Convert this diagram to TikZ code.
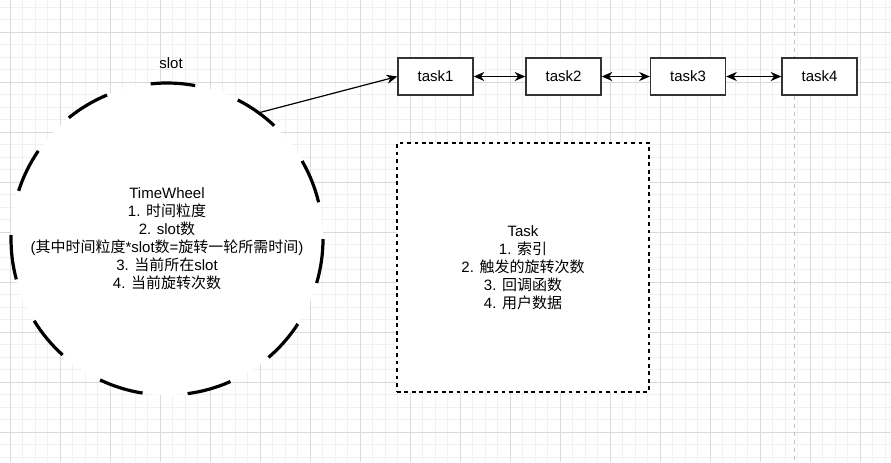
\documentclass[tikz,border=0pt]{standalone}
\usepackage{fontspec}
\setmainfont{Liberation Sans}
\newfontfamily\cjk{Noto Sans CJK SC}
\usetikzlibrary{arrows.meta,calc}
\newcommand\zh[1]{{\cjk #1}}
\definecolor{gridminor}{HTML}{F1F1F1}
\definecolor{gridmajor}{HTML}{DADADA}
\definecolor{boxline}{HTML}{333333}
\begin{document}
\begin{tikzpicture}[x=0.75pt,y=-0.75pt,
  txt/.style={font=\fontsize{11.25pt}{13.5pt}\selectfont, align=center, inner sep=0pt},
  taskbox/.style={draw=boxline, line width=1pt, fill=white, minimum width=56.25pt, minimum height=27.75pt, inner sep=0pt, txt},
  arr/.style={line width=0.9pt, {Stealth[length=8pt,width=6.8pt,inset=2.5pt]}-{Stealth[length=8pt,width=6.8pt,inset=2.5pt]}},
  arrone/.style={line width=0.9pt, -{Stealth[length=8pt,width=6.8pt,inset=2.5pt]}}]
\fill[white] (0,0) rectangle (891,462);
\useasboundingbox (0,0) rectangle (891,462);
% grid
\foreach \x in {10,22.5,...,886} \draw[gridminor, line width=0.75pt] (\x,0) -- (\x,462);
\foreach \y in {7,19.5,...,460} \draw[gridminor, line width=0.75pt] (0,\y) -- (891,\y);
\foreach \x in {10,60,...,860} \draw[gridmajor, line width=0.75pt] (\x,0) -- (\x,462);
\foreach \y in {32,82,...,432} \draw[gridmajor, line width=0.75pt] (0,\y) -- (891,\y);
% gray dashed vertical line
\draw[black!25, line width=0.75pt, dash pattern=on 3pt off 3pt] (794,0) -- (794,462);
% wheel
\node[circle, fill=white, minimum size=234pt, inner sep=0pt, outer sep=0pt, txt] (wheel) at (167,239)
 {TimeWheel\\1. \zh{时间粒度}\\2. slot\zh{数}\\(\zh{其中时间粒度}*slot\zh{数}=\zh{旋转一轮所需时间})\\3. \zh{当前所在}slot\\4. \zh{当前旋转次数}};
\foreach \k in {0,...,10}
  \draw[line width=2.4pt] ($(wheel.center)+({33*\k}:156)$) arc[start angle=33*\k, delta angle=16.4, radius=156];
\node[txt] (slotlbl) at (171,63) {slot};
% tasks
\node[taskbox] (t1) at (435.5,76.5) {task1};
\node[taskbox] (t2) at (563.5,76.5) {task2};
\node[taskbox] (t3) at (688,76.5) {task3};
\node[taskbox] (t4) at (819.5,76.5) {task4};
\draw[arr] (t1) -- (t2);
\draw[arr] (t2) -- (t3);
\draw[arr] (t3) -- (t4);
\draw[arrone] (wheel.54.2) -- (t1.west);
% Task box
\node[draw=black, fill=white, line width=1pt, dash pattern=on 2.8pt off 2.8pt, minimum width=189pt, minimum height=186.75pt, txt] (task) at (523,267.5)
 {Task\\1. \zh{索引}\\2. \zh{触发的旋转次数}\\3. \zh{回调函数}\\4. \zh{用户数据}};
\end{tikzpicture}
\end{document}
